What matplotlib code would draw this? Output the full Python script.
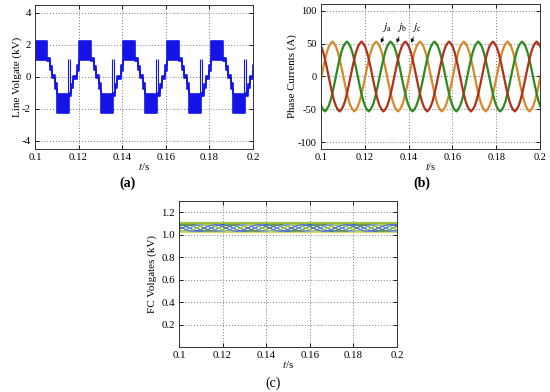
import numpy as np
import matplotlib
matplotlib.use("Agg")
import matplotlib.pyplot as plt

plt.rcParams['font.family'] = ['Liberation Serif', 'DejaVu Serif']
plt.rcParams['mathtext.fontset'] = 'stix'
plt.rcParams['axes.unicode_minus'] = False

# ---------------- data ----------------
x_ticks = [0.1, 0.12, 0.14, 0.16, 0.18, 0.2]
x_tick_labels = ['0.1', '0.12', '0.14', '0.16', '0.18', '0.2']

# (a) line voltage: one period, segment starts (ms after period start) with low/high envelope (kV)
va_period_starts = [0.1, 0.1202, 0.1405, 0.1607, 0.1809]
va_period_end = 0.2012
va_seg_ms = [0.0, 5.3, 6.8, 7.6, 9.1, 10.0, 15.5, 16.7, 17.6, 19.1]
va_low = [1.08, 0.98, 0.45, -0.08, -0.75, -2.28, -1.18, -0.70, -0.12, 0.40]
va_high = [2.28, 1.18, 0.70, 0.12, -0.40, -1.08, -0.98, -0.45, 0.08, 0.75]
va_spike_ms = [15.2, 16.1]
va_spike_range = (-1.1, 1.1)
a_yticks = [-4, -2, 0, 2, 4]

# (b) phase currents: samples of one cycle (A) starting at a positive peak, 24 per 20 ms
cur_cycle = [53, 50, 45, 37, 26, 13.5, 0, -13.5, -26, -37, -45, -50,
             -53, -50, -45, -37, -26, -13.5, 0, 13.5, 26, 37, 45, 50]
cur_period = 0.02
cur_names = ['ja', 'jb', 'jc']
cur_first_peak = [0.1052, 0.1118, 0.1185]
cur_colors = ['#d48a2c', '#2e8a1e', '#b0301a']
b_yticks = [-100, -50, 0, 50, 100]
lbl_text = ['$j_{\\mathrm{a}}$', '$j_{\\mathrm{b}}$', '$j_{\\mathrm{c}}$']
lbl_tip_t = [0.1274, 0.1346, 0.1411]
lbl_tip_v = [51, 51, 51]
lbl_txt_t = [0.1300, 0.1372, 0.1440]
lbl_txt_v = [64, 64, 64]

# (c) flying-capacitor voltages: one ripple cycle (kV), 12 samples per 20 ms
fc_cycle = [1.090, 1.086, 1.074, 1.058, 1.043, 1.033, 1.030, 1.034, 1.046, 1.061, 1.075, 1.086]
fc_period = 0.02
fc_first_peak = [0.1000, 0.1033, 0.1067, 0.1100, 0.1133, 0.1167]
fc_colors = ['#2f55d4', '#3c9c3a', '#6e6e52', '#5aa0e0', '#b5c832', '#4a6bd0']
fc_top_level = 1.105
fc_bottom_level = 1.022
c_yticks = [0.2, 0.4, 0.6, 0.8, 1.0, 1.2]

# ---------------- figure ----------------
W, H = 550, 392
fig = plt.figure(figsize=(W / 100, H / 100), dpi=100)


def box(l, t, r, b):
    return [l / W, 1 - b / H, (r - l) / W, (b - t) / H]


def style(ax, fs):
    ax.set_xlim(0.1, 0.2)
    ax.set_xticks(x_ticks)
    ax.set_xticklabels(x_tick_labels)
    ax.grid(True, linestyle=(0, (1, 2)), color='#7a7a7a', linewidth=0.7)
    ax.tick_params(direction='in', length=3, width=0.6, labelsize=fs, pad=3,
                   top=True, right=True)
    for s in ax.spines.values():
        s.set_linewidth(0.7)
        s.set_color('#333333')
    ax.set_axisbelow(True)
    ax.set_xlabel('$t$/s', fontsize=fs, labelpad=-1)


# (a)
axa = fig.add_axes(box(35, 5, 253, 149))
edges, lows, highs = [], [], []
for s in va_period_starts:
    for ms, lo, hi in zip(va_seg_ms, va_low, va_high):
        edges.append(s + ms / 1000.0)
        lows.append(lo)
        highs.append(hi)
edges.append(va_period_end)
lows.append(lows[-1])
highs.append(highs[-1])
blue = '#1414e6'
axa.fill_between(edges, lows, highs, step='post', color=blue, linewidth=0)
axa.plot(edges, lows, drawstyle='steps-post', color=blue, lw=1.2)
axa.plot(edges, highs, drawstyle='steps-post', color=blue, lw=1.2)
spikes = [s + ms / 1000.0 for s in va_period_starts for ms in va_spike_ms]
axa.vlines(spikes, va_spike_range[0], va_spike_range[1], color=blue, lw=0.8)
axa.set_ylim(-4.5, 4.5)
axa.set_yticks(a_yticks)
style(axa, 7.8)
axa.set_ylabel('Line Volgate (kV)', fontsize=8, labelpad=0)

# (b)
axb = fig.add_axes(box(321, 4, 540, 149))
n = len(cur_cycle)
for fp, col in zip(cur_first_peak, cur_colors):
    reps = 7
    t = fp - cur_period + np.arange(n * reps + 1) * (cur_period / n)
    v = np.tile(cur_cycle, reps + 1)[:len(t)]
    axb.plot(t, v, color=col, lw=1.6)
for txt, tt, tv, xt, xv in zip(lbl_text, lbl_tip_t, lbl_tip_v, lbl_txt_t, lbl_txt_v):
    axb.annotate(txt, xy=(tt, tv), xytext=(xt, xv), fontsize=8, ha='center', va='bottom',
                 arrowprops=dict(arrowstyle='-|>', color='k', lw=0.6, mutation_scale=5,
                                 shrinkA=0, shrinkB=0))
axb.set_ylim(-110, 110)
axb.set_yticks(b_yticks)
style(axb, 7.5)
axb.set_ylabel('Phase Currents (A)', fontsize=7.8, labelpad=1)

# (c)
axc = fig.add_axes(box(179, 201, 397, 347))
m = len(fc_cycle)
axc.axhline(fc_bottom_level, color='#d8d86a', lw=0.9)
for fp, col in zip(fc_first_peak, fc_colors):
    reps = 7
    t = fp - fc_period + np.arange(m * reps + 1) * (fc_period / m)
    v = np.tile(fc_cycle, reps + 1)[:len(t)]
    axc.plot(t, v, color=col, lw=0.9)
axc.axhline(fc_top_level, color='#9cbc3c', lw=1.5)
axc.set_ylim(0, 1.3)
axc.set_yticks(c_yticks)
axc.set_yticklabels(['%.1f' % v for v in c_yticks])
style(axc, 7.8)
axc.set_ylabel('FC Volgates (kV)', fontsize=8, labelpad=3)

fig.text(128 / W, 1 - 183 / H, '(a)', fontsize=10, fontweight='bold', ha='center', va='center')
fig.text(422 / W, 1 - 183 / H, '(b)', fontsize=10, fontweight='bold', ha='center', va='center')
fig.text(273 / W, 1 - 383 / H, '(c)', fontsize=10, ha='center', va='center')

fig.savefig('out.png', dpi=100)
